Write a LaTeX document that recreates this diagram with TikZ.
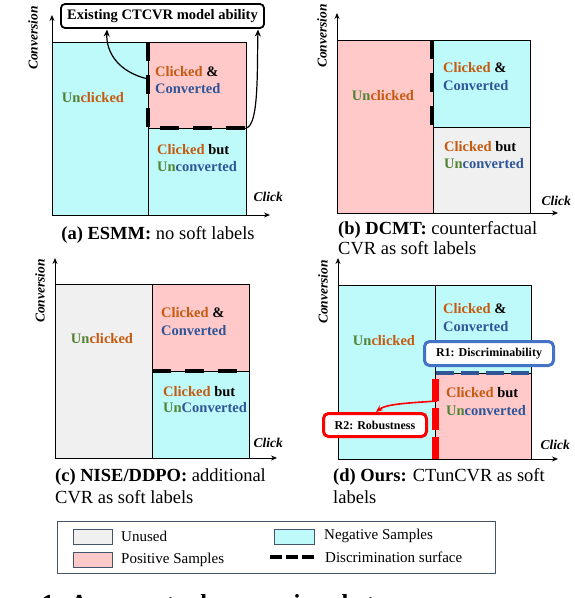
\documentclass[tikz,border=0pt]{standalone}
\usepackage{fontspec}
\setmainfont{Liberation Serif}
\usetikzlibrary{arrows.meta}
\definecolor{cyanfill}{HTML}{BEFAFA}
\definecolor{pinkfill}{HTML}{FFC9C9}
\definecolor{greyfill}{HTML}{F0F0F0}
\definecolor{corange}{HTML}{C55A11}
\definecolor{cblue}{HTML}{2F5597}
\definecolor{cgreen}{HTML}{548235}
\definecolor{legborder}{HTML}{44546A}
\definecolor{rblue}{HTML}{4472C4}
\definecolor{dblue}{HTML}{2F5597}
\definecolor{rred}{HTML}{FF0000}
\newcommand{\myCk}{\textcolor{corange}{Clicked}}
\newcommand{\myCv}{\textcolor{cblue}{Converted}}
\newcommand{\myUncl}{\textcolor{cgreen}{Un}\textcolor{corange}{clicked}}
\newcommand{\myUncv}{\textcolor{cgreen}{Un}\textcolor{cblue}{converted}}
\newcommand{\myUnCv}{\textcolor{cgreen}{Un}\textcolor{cblue}{Converted}}
\begin{document}
\begin{tikzpicture}[x=1pt,y=-1pt,
  lab/.style={anchor=west,inner sep=0pt,font=\fontsize{14.5}{16}\selectfont\bfseries},
  clab/.style={anchor=center,inner sep=0pt,font=\fontsize{14.5}{16}\selectfont\bfseries},
  captxt/.style={anchor=west,inner sep=0pt,font=\fontsize{18.5}{20}\selectfont},
  axlab/.style={inner sep=0pt,font=\fontsize{13.5}{15}\selectfont\bfseries\itshape},
  axis/.style={line width=0.8pt,-{Stealth[length=6pt,width=5pt]}},
  frame/.style={line width=0.8pt},
  disc/.style={line width=4pt,dash pattern=on 19pt off 14pt},
  leg/.style={anchor=west,inner sep=0pt,font=\fontsize{15}{17}\selectfont},
  swatch/.style={draw=legborder,line width=0.8pt},
  callout/.style={draw,rounded corners=5pt,fill=white,line width=3pt,inner sep=0pt,font=\fontsize{12}{14}\selectfont\bfseries},
  conn/.style={line width=1.2pt,-{Stealth[length=7pt,width=6pt]}}
]
\useasboundingbox (0,0) rectangle (574,598);

% ================= (a) ESMM =================
\fill[cyanfill] (52,42) rectangle (246,215);
\fill[pinkfill] (148,42) rectangle (246,128);
\draw[frame] (52,42) rectangle (246,215);
\draw[frame] (148,42) -- (148,215);
\draw[frame] (148,128) -- (246,128);
\draw[disc] (148,42) -- (148,128);
\draw[disc] (160,128) -- (246,128);
\draw[axis] (52,215) -- (52,15);
\draw[axis] (52,215) -- (270,215);
\node[axlab,anchor=east] (aclick) at (283,197) {Click};
\node[axlab,rotate=90] (aconv) at (33,38) {Conversion};
\node[clab] (aun) at (93,98) {\myUncl};
\node[lab] (acc1) at (155,72) {\myCk{} \&};
\node[lab] (acc2) at (155,89) {\myCv};
\node[lab] (acu1) at (157,150) {\myCk{} but};
\node[lab] (acu2) at (157,167) {\myUncv};
\node[draw,rounded corners=4pt,line width=1.8pt,fill=white,inner sep=0pt,
      minimum width=203pt,minimum height=24pt,font=\fontsize{14.5}{16}\selectfont\bfseries]
      (abox) at (162.5,16) {Existing CTCVR model ability};
\coordinate (as1) at (148,79);
\coordinate (ae1) at (107,29.5);
\coordinate (as2) at (246,128);
\coordinate (ae2) at (258,29.5);
\draw[conn] (as1) .. controls (118,72) and (106,52) .. (ae1);
\draw[conn] (as2) .. controls (259,126) and (257,70) .. (ae2);
\node[captxt,anchor=center] (acap) at (158,235) {\textbf{(a) ESMM:} no soft labels};

% ================= (b) DCMT =================
\fill[pinkfill] (337,40) rectangle (433,213);
\fill[cyanfill] (433,40) rectangle (530,127);
\fill[greyfill] (433,127) rectangle (530,213);
\draw[frame] (337,40) rectangle (530,213);
\draw[frame] (433,40) -- (433,213);
\draw[frame] (433,127) -- (530,127);
\draw[disc] (431.5,40) -- (431.5,127);
\draw[axis] (337,213) -- (337,13);
\draw[axis] (337,213) -- (558,213);
\node[axlab,anchor=east] (bclick) at (571,201) {Click};
\node[axlab,rotate=90] (bconv) at (322,36) {Conversion};
\node[clab] (bun) at (383,96) {\myUncl};
\node[lab] (bcc1) at (443,68) {\myCk{} \&};
\node[lab] (bcc2) at (443,86) {\myCv};
\node[lab] (bcu1) at (444,147) {\myCk{} but};
\node[lab] (bcu2) at (444,164) {\myUncv};
\node[captxt] (bcap1) at (338,230) {\textbf{(b) DCMT:} counterfactual};
\node[captxt] (bcap2) at (338,248) {CVR as soft labels};

% ================= (c) NISE/DDPO =================
\fill[greyfill] (55,284) rectangle (152,458);
\fill[pinkfill] (152,284) rectangle (249,371);
\fill[cyanfill] (152,371) rectangle (249,458);
\draw[frame] (55,284) rectangle (249,458);
\draw[frame] (152,284) -- (152,458);
\draw[frame] (152,371) -- (249,371);
\draw[disc] (152,371) -- (249,371);
\draw[axis] (55,458) -- (55,258);
\draw[axis] (55,458) -- (277,458);
\node[axlab,anchor=east] (cclick) at (283,443) {Click};
\node[axlab,rotate=90] (cconv) at (40,291) {Conversion};
\node[clab] (cun) at (102,339) {\myUncl};
\node[lab] (ccc1) at (161,313) {\myCk{} \&};
\node[lab] (ccc2) at (161,331) {\myCv};
\node[lab] (ccu1) at (163,392) {\myCk{} but};
\node[lab] (ccu2) at (163,408) {\myUnCv};
\node[captxt] (ccap1) at (55,477) {\textbf{(c) NISE/DDPO:} additional};
\node[captxt] (ccap2) at (55,497) {CVR as soft labels};

% ================= (d) Ours =================
\fill[cyanfill] (338,285) rectangle (531,459);
\fill[pinkfill] (435,373) rectangle (531,459);
\draw[frame] (338,285) rectangle (531,459);
\draw[frame] (435,285) -- (435,459);
\draw[frame] (435,373) -- (531,373);
\draw[line width=4pt,dblue,dash pattern=on 18pt off 7pt] (436,373) -- (531,373);
\draw[line width=7pt,rred,dash pattern=on 22pt off 7pt] (435,379) -- (435,459);
\draw[axis] (338,459) -- (338,258);
\draw[axis] (338,459) -- (558,459);
\node[axlab,anchor=east] (dclick) at (570,445) {Click};
\node[axlab,rotate=90] (dconv) at (323,292) {Conversion};
\node[clab] (dun) at (384,341) {\myUncl};
\node[lab] (dcc1) at (443,309) {\myCk{} \&};
\node[lab] (dcc2) at (443,327) {\myCv};
\node[lab] (dcu1) at (446,393) {\myCk{} but};
\node[lab] (dcu2) at (446,411) {\myUncv};
\node[callout,draw=rblue,minimum width=129pt,minimum height=24pt] (rone) at (489,353.5) {R1: Discriminability};
\node[callout,draw=rred,minimum width=103pt,minimum height=23pt] (rtwo) at (375,425) {R2: Robustness};
\coordinate (rs) at (437,401);
\coordinate (re) at (376,412);
\draw[conn,rred,line width=1.6pt] (rs) .. controls (408,403) and (386,404) .. (re);
\node[captxt] (dcap1) at (333,477) {\textbf{(d) Ours:} CTunCVR as soft};
\node[captxt] (dcap2) at (333,497) {labels};

% ================= Legend =================
\draw[legborder,line width=1pt] (57,521) rectangle (495,573);
\draw[swatch,fill=greyfill] (73,529) rectangle (112,544);
\node[leg] (lunused) at (121,536) {Unused};
\draw[swatch,fill=pinkfill] (73,552) rectangle (112,567);
\node[leg] (lpos) at (121,560) {Positive Samples};
\draw[swatch,fill=cyanfill] (274,529) rectangle (314,544);
\node[leg] (lneg) at (324,536) {Negative Samples};
\draw[line width=4pt,dash pattern=on 12pt off 4pt] (270,557) -- (315,557);
\node[leg] (ldisc) at (325,557) {Discrimination surface};

% ================= clipped figure caption =================
\begin{scope}
\clip (0,0) rectangle (574,598);
\node[anchor=base west,inner sep=0pt,font=\fontsize{24.5}{28}\selectfont\bfseries] (figcap) at (-33.5,611) {Figure 1: A conceptual comparison between};
\end{scope}
\end{tikzpicture}
\end{document}
